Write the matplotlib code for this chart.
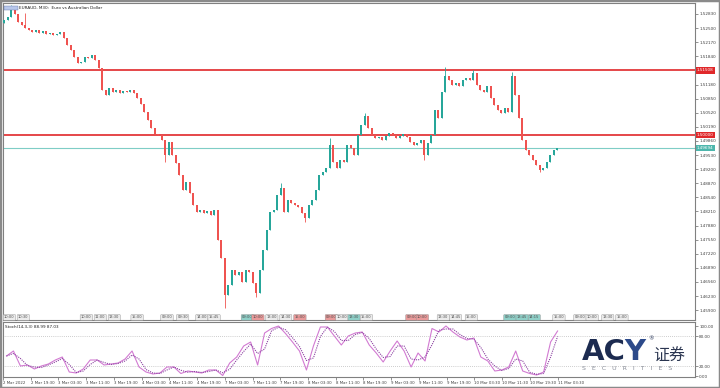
import numpy as np
import pandas as pd
import matplotlib
matplotlib.use("Agg")
import matplotlib.pyplot as plt
from matplotlib.patches import Rectangle

# EURAUD M30 closes (one candle per hour on this copy)
closes = [1.52690, 1.52760, 1.52924, 1.52830, 1.52643, 1.52573, 1.52503, 1.52456, 1.52409, 1.52456,
          1.52386, 1.52433, 1.52362, 1.52386, 1.52339, 1.52362, 1.52409, 1.52269, 1.52105, 1.51988,
          1.51824, 1.51684, 1.51707, 1.51824, 1.51801, 1.51871, 1.51754, 1.51567, 1.51052, 1.50935,
          1.51099, 1.51005, 1.51052, 1.50982, 1.51029, 1.51005, 1.51052, 1.50982, 1.50865, 1.50724,
          1.50537, 1.50350, 1.50163, 1.50022, 1.49999, 1.49882, 1.49531, 1.49836, 1.49531, 1.49344,
          1.49063, 1.48712, 1.48899, 1.48646, 1.48361, 1.48197, 1.48244, 1.48174, 1.48221, 1.48127,
          1.48244, 1.47542, 1.47121, 1.46255, 1.46489, 1.46840, 1.46723, 1.46793, 1.46560, 1.46840,
          1.46793, 1.46536, 1.46302, 1.46840, 1.47308, 1.47776, 1.48197, 1.48244, 1.48595, 1.48759,
          1.48197, 1.48478, 1.48408, 1.48361, 1.48314, 1.48174, 1.48057, 1.48361, 1.48478, 1.48712,
          1.49063, 1.49133, 1.49227, 1.49765, 1.49367, 1.49227, 1.49414, 1.49367, 1.49765, 1.49695,
          1.49531, 1.49999, 1.50233, 1.50444, 1.50163, 1.49999, 1.49929, 1.49952, 1.49882, 1.49976,
          1.50046, 1.49999, 1.49929, 1.49976, 1.50022, 1.49952, 1.49835, 1.49765, 1.49812, 1.49882,
          1.49531, 1.49812, 1.49999, 1.50584, 1.50397, 1.51005, 1.51380, 1.51286, 1.51169, 1.51216,
          1.51146, 1.51286, 1.51333, 1.51286, 1.51450, 1.51169, 1.51052, 1.51005, 1.51146, 1.50865,
          1.50701, 1.50584, 1.50514, 1.50631, 1.50537, 1.51380, 1.50935, 1.50397, 1.49882, 1.49648,
          1.49531, 1.49414, 1.49297, 1.49180, 1.49227, 1.49367, 1.49531, 1.49648, 1.49694]
first_open = 1.52620
# wick extremes that stand out from the bodies
spike_high = {2: 1.53041, 6: 1.52860, 79: 1.48876, 93: 1.49929, 103: 1.50514,
              126: 1.51590, 134: 1.51520, 145: 1.51473}
spike_low = {46: 1.49367, 63: 1.45951, 72: 1.46208, 86: 1.47963, 120: 1.49414, 153: 1.49133}

res_level = 1.51508
sup_level = 1.50000
bid_level = 1.49694

# Stochastic %K, every second candle
stoch_k = [40, 50, 20, 22, 14, 20, 24, 32, 38, 8,
           6, 14, 32, 32, 22, 24, 26, 34, 50, 18,
           8, 4, 6, 18, 18, 5, 10, 8, 6, 12,
           12, 1, 26, 38, 60, 68, 22, 86, 95, 100,
           85, 68, 50, 12, 60, 98, 98, 80, 62, 80,
           86, 88, 62, 46, 28, 50, 70, 50, 18, 46,
           30, 95, 88, 100, 88, 78, 72, 76, 38, 30,
           10, 12, 18, 50, 10, 5, 2, 8, 68, 90]

date_labels = ['2 Mar 2022', '2 Mar 19:30', '3 Mar 03:30', '3 Mar 11:30', '3 Mar 19:30',
               '4 Mar 03:30', '4 Mar 11:30', '4 Mar 19:30', '7 Mar 03:30', '7 Mar 11:30',
               '7 Mar 19:30', '8 Mar 03:30', '8 Mar 11:30', '8 Mar 19:30', '9 Mar 03:30',
               '9 Mar 11:30', '9 Mar 19:30', '10 Mar 03:30', '10 Mar 11:30', '10 Mar 19:30',
               '11 Mar 03:30']

# calendar event flags along the bottom of the price panel
event_idx = [0, 4, 22, 26, 30, 36.5, 45, 49.5, 55, 58.5, 68, 71, 75, 79, 83,
             92, 95, 98.5, 102, 115, 118, 124, 127.5, 132, 143, 146.5, 150, 157,
             163, 166.5, 171, 175]
event_txt = ['10:00', '10:30', '10:00', '11:00', '13:30', '15:00', '09:00', '09:30', '14:00', '15:45',
             '09:00', '10:00', '13:00', '14:30', '15:00', '09:00', '10:00', '13:30', '15:00',
             '09:00', '10:00', '13:30', '14:45', '15:00', '09:00', '13:45', '14:15', '15:00',
             '09:00', '10:00', '13:30', '15:00']
event_col = ['g', 'g', 'g', 'g', 'g', 'g', 'g', 'g', 'g', 'g',
             't', 'r', 'g', 'g', 'r', 'r', 'g', 't', 'g',
             'r', 'r', 'g', 'g', 'g', 't', 't', 't', 'g',
             'g', 'g', 'g', 'g']

UP = '#26a69a'
DOWN = '#ef5350'
TXT = '#404040'

opens = [first_open] + closes[:-1]
n = len(closes)
x = np.arange(n)
highs = [spike_high.get(i, max(opens[i], closes[i])) for i in range(n)]
lows = [spike_low.get(i, min(opens[i], closes[i])) for i in range(n)]
cols = [UP if c >= o else DOWN for o, c in zip(opens, closes)]

fig = plt.figure(figsize=(7.2, 3.88), dpi=100)
fig.set_facecolor('white')

ax = fig.add_axes([3/720, 1-320/388, 692/720, 317/388])
ax2 = fig.add_axes([3/720, 1-377/388, 692/720, 55/388])

# price panel
ax.vlines(x, lows, highs, colors=cols, linewidth=0.6, zorder=3)
bottoms = [min(o, c) for o, c in zip(opens, closes)]
heights = [max(abs(c - o), 0.00006) for o, c in zip(opens, closes)]
ax.bar(x, heights, bottom=bottoms, width=0.55, color=cols, linewidth=0, zorder=4)

ax.axhline(res_level, color='#e0282a', lw=1.2, zorder=2)
ax.axhline(sup_level, color='#e0282a', lw=1.2, zorder=2)
ax.axhline(bid_level, color='#7fcdc6', lw=0.8, zorder=2)

ax.set_xlim(-0.3, 197.4)
ax.set_ylim(1.45670, 1.53087)
ax.yaxis.tick_right()
ticks = np.arange(1.45900, 1.5290, 0.0033)
# the level labels cover the tick that falls on them
ticks = [t for t in ticks if min(abs(t - res_level), abs(t - sup_level), abs(t - bid_level)) > 0.0005]
ax.set_yticks(ticks)
ax.yaxis.set_major_formatter(plt.FormatStrFormatter('%.5f'))
ax.tick_params(axis='y', labelsize=3, length=2, width=0.4, pad=1, colors=TXT)
ax.set_xticks([])
for s in ax.spines.values():
    s.set_color('#808080')
    s.set_linewidth(0.8)

for lvl, fc in [(res_level, '#e0282a'), (sup_level, '#e0282a'), (bid_level, '#4db6ac')]:
    ax.annotate('%.5f' % lvl, xy=(1.003, lvl), xycoords=('axes fraction', 'data'),
                ha='left', va='center', fontsize=3, color='white', annotation_clip=False,
                bbox=dict(boxstyle='square,pad=0.25', fc=fc, ec='none'))

# symbol caption
ax.add_patch(Rectangle((0.002, 0.978), 0.02, 0.014, transform=ax.transAxes,
                       fc='#b8c8ec', ec='#6070a0', lw=0.3, zorder=5))
ax.text(0.023, 0.985, 'EURAUD, M30:  Euro vs Australian Dollar', transform=ax.transAxes,
        fontsize=3, color='#202020', va='center', ha='left')

fcmap = {'g': '#ececec', 't': '#8fd0c8', 'r': '#e99a9a'}
for xi, t, c in zip(event_idx, event_txt, event_col):
    ax.text(xi, 1.45730, t, fontsize=2.6, color='#505050', ha='left', va='center', zorder=6,
            bbox=dict(boxstyle='round,pad=0.25', fc=fcmap[c], ec='#909090', lw=0.3))

# stochastic panel
k_idx = np.arange(len(stoch_k)) * 2
stoch_d = pd.Series(stoch_k).rolling(2, min_periods=1).mean()
ax2.axhline(80, color='#a0a0a0', lw=0.5, ls=(0, (1, 2)))
ax2.axhline(20, color='#a0a0a0', lw=0.5, ls=(0, (1, 2)))
ax2.plot(k_idx, stoch_k, color='#d27ad2', lw=0.8)
ax2.plot(k_idx, stoch_d, color='#8a3fa0', lw=0.8, ls=(0, (1, 1)))
ax2.set_xlim(-0.3, 197.4)
ax2.set_ylim(-2, 108)
ax2.yaxis.tick_right()
ax2.set_yticks([0, 20, 80, 100])
ax2.set_yticklabels(['0.00', '20.00', '80.00', '100.00'])
ax2.tick_params(axis='y', labelsize=3, length=2, width=0.4, pad=1, colors=TXT)
ax2.set_xticks(np.arange(len(date_labels)) * 7.95 - 1)
ax2.set_xticklabels(date_labels)
ax2.tick_params(axis='x', labelsize=2.8, length=2, width=0.4, pad=1, colors=TXT)
for lab in ax2.get_xticklabels():
    lab.set_ha('left')
for s in ax2.spines.values():
    s.set_color('#808080')
    s.set_linewidth(0.8)
ax2.text(0.003, 0.9, 'Stoch(14,3,3) 88.99 87.03', transform=ax2.transAxes,
         fontsize=3, color='#202020', va='center', ha='left')

# broker logo
fig.text(582/720, 1-360/388, 'AC', fontsize=21, fontweight='bold', color='#1c2b50',
         ha='left', va='baseline', family='DejaVu Sans')
fig.text(624/720, 1-360/388, 'Y', fontsize=21, fontweight='bold', color='#2c4a8a',
         ha='left', va='baseline', family='DejaVu Sans')
fig.text(648/720, 1-340/388, '®', fontsize=4, color='#1c2b50', ha='left', va='baseline')
fig.text(653/720, 1-361/388, '证券', fontsize=11.5, color='#2a3550', ha='left', va='baseline',
         family=['Noto Sans CJK SC', 'DejaVu Sans'])
fig.text(582/720, 1-369/388, 'S   E   C   U   R   I   T   I   E   S', fontsize=4.5,
         color='#8a8f9a', ha='left', va='center')

fig.patches.append(Rectangle((0, 0), 1, 1, transform=fig.transFigure, fill=False,
                             ec='#8a8a8a', lw=2.5))

fig.savefig('out.png', dpi=100)
